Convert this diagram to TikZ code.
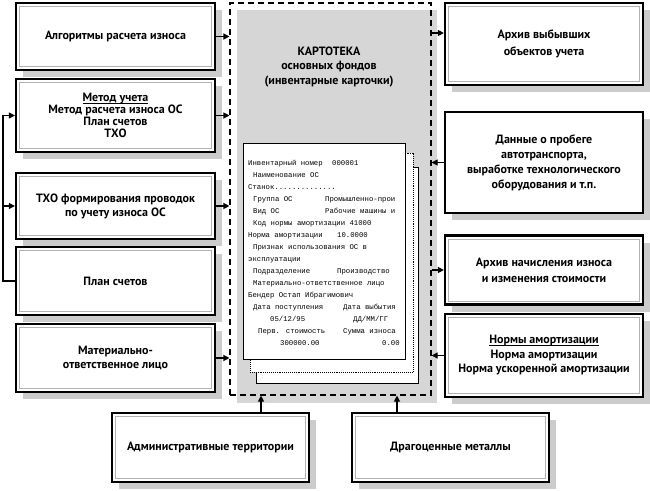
\documentclass[tikz,border=0pt]{standalone}
\usepackage{fontspec}
\setmainfont{PT Sans}
\newfontfamily\cardfont{Liberation Mono}
\usetikzlibrary{arrows.meta,shadows}
\definecolor{shgray}{gray}{0.80}
\definecolor{contgray}{gray}{0.84}
\newcommand\myul[1]{\setbox0\hbox{#1}\rlap{\rule[-1.6pt]{\wd0}{0.6pt}}\box0}
\tikzset{
  bx/.style={draw=black, line width=2.2pt, fill=white, align=center, inner sep=0pt,
    font=\bfseries\fontsize{12}{12.5}\selectfont,
    drop shadow={shadow xshift=7pt, shadow yshift=-7pt, fill=shgray, opacity=1}},
  lsk/.style={font=\bfseries\fontsize{12}{#1}\selectfont},
  bxthin/.style={bx, line width=1.5pt},
  innerline/.style={draw=gray!60, line width=0.7pt},
  arr/.style={line width=1.1pt, -{Triangle[length=6pt,width=6pt]}},
  cardbox/.style={draw=black, fill=white, line width=0.9pt, inner sep=0pt},
  ct/.style={font=\cardfont\fontsize{7.3}{8}\selectfont, anchor=base west, inner sep=0pt},
}
\begin{document}
\begin{tikzpicture}[x=1pt,y=-1pt]
\useasboundingbox (0,0) rectangle (650,490);

% container
\fill[contgray] (237,10) rectangle (437,403);
\node[draw, dash pattern=on 6pt off 4pt, line width=1.1pt, minimum width=201pt, minimum height=392pt, inner sep=0pt] (cont) at (330.5,199) {};

\node[align=center, font=\bfseries\fontsize{12}{14.5}\selectfont] (title) at (329,67) {КАРТОТЕКА\\основных фондов\\(инвентарные карточки)};

% cards
\node[cardbox, minimum width=162pt, minimum height=216pt] (card3) at (337,275) {};
\node[cardbox, densely dotted, minimum width=163pt, minimum height=219pt] (card2) at (331.5,262.5) {};
\node[cardbox, minimum width=162pt, minimum height=216pt] (card1) at (324,251) {};

\node[ct] (t1a) at (248,165.5) {Инвентарный номер};
\node[ct] (t1b) at (332,165.5) {000001};
\node[ct] (t2) at (253,177.5) {Наименование ОС};
\node[ct] (t3) at (248,189.5) {Станок..............};
\node[ct] (t4a) at (253,201.5) {Группа ОС};
\node[ct] (t4b) at (325,201.5) {Промышленно-прои};
\node[ct] (t5a) at (253,213.5) {Вид ОС};
\node[ct] (t5b) at (325,213.5) {Рабочие машины и};
\node[ct] (t6) at (253,225.5) {Код нормы амортизации 41000};
\node[ct] (t7a) at (248,237.5) {Норма амортизации};
\node[ct] (t7b) at (337,237.5) {10.0000};
\node[ct] (t8) at (253,249.5) {Признак использования ОС в};
\node[ct] (t9) at (248,261.5) {эксплуатации};
\node[ct] (t10a) at (253,273.5) {Подразделение};
\node[ct] (t10b) at (337,273.5) {Производство};
\node[ct] (t11) at (253,285.5) {Материально-ответственное лицо};
\node[ct] (t12) at (248,297.5) {Бендер Остап Ибрагимович};
\node[ct] (t13a) at (253,309.5) {Дата поступления};
\node[ct] (t13b) at (343,309.5) {Дата выбытия};
\node[ct] (t14a) at (270,321.5) {05/12/95};
\node[ct] (t14b) at (353,321.5) {ДД/ММ/ГГ};
\node[ct] (t15a) at (258,333.5) {Перв. стоимость};
\node[ct] (t15b) at (343,333.5) {Сумма износа};
\node[ct] (t16a) at (280,345.5) {300000.00};
\node[ct] (t16b) at (382,345.5) {0.00};

% left boxes
\node[bx, minimum width=199pt, minimum height=67pt] (alg) at (115.5,36.5) {Алгоритмы расчета износа};
\node[bx, lsk=12, minimum width=199pt, minimum height=73pt] (metod) at (115.5,115.5) {\myul{Метод учета}\\Метод расчета износа ОС\\План счетов\\ТХО};
\node[bx, lsk=14, minimum width=199pt, minimum height=66pt] (tho) at (115.5,206) {ТХО формирования проводок\\по учету износа ОС};
\node[bx, minimum width=199pt, minimum height=68pt] (plan) at (115.5,281) {План счетов};
\node[bx, lsk=14, minimum width=199pt, minimum height=68pt] (mat) at (115.5,358) {Материально-\\ответственное лицо};

% right boxes
\node[bx, lsk=17, minimum width=198pt, minimum height=82pt] (arch1) at (544,44) {Архив выбывших\\объектов учета};
\node[bxthin, lsk=15, minimum width=198pt, minimum height=101pt] (dan) at (544,162.5) {Данные о пробеге\\автотранспорта,\\выработке технологического\\оборудования и т.п.};
\node[bx, lsk=16, minimum width=198pt, minimum height=69pt] (arch2) at (544,270) {Архив начисления износа\\и изменения стоимости};
\node[bx, lsk=14.5, minimum width=198pt, minimum height=83pt] (norm) at (544,355.5) {\myul{Нормы амортизации}\\Норма амортизации\\Норма ускоренной амортизации};

% bottom boxes
\node[bx, minimum width=197pt, minimum height=69pt] (adm) at (210.5,447.5) {Административные территории};
\node[bx, minimum width=197pt, minimum height=69pt] (drag) at (450.5,447.5) {Драгоценные металлы};

\foreach \n in {alg,metod,tho,plan,mat,arch1,arch2,norm,adm,drag}
  \draw[innerline] ([shift={(4.5pt,-4.5pt)}]\n.north west) rectangle ([shift={(-4.5pt,4.5pt)}]\n.south east);

% left connectors
\draw[arr] (alg.east) -- (alg.east -| cont.west);
\draw[arr] (metod.east) -- (metod.east -| cont.west);
\draw[arr] (tho.east) -- (tho.east -| cont.west);
\draw[arr] (mat.east) -- (mat.east -| cont.west);

\coordinate (lb) at (3,281);
\draw[arr] (plan.west) -- (lb) |- (metod.west);
\draw[arr] (lb |- tho.west) -- (tho.west);

% right connectors
\coordinate (a1) at ([yshift=11pt]arch1.west);
\draw[arr] (a1 -| cont.east) -- (a1);
\draw[arr] (dan.west) -- (dan.west -| cont.east);
\draw[arr] (arch2.west -| cont.east) -- (arch2.west);
\draw[arr] (norm.west) -- (norm.west -| cont.east);

% bottom connectors
\coordinate (b1) at ([xshift=50.5pt]adm.north);
\coordinate (b2) at ([xshift=-53.5pt]drag.north);
\draw[arr] (b1) -- (b1 |- cont.south);
\draw[arr] (b2) -- (b2 |- cont.south);
\end{tikzpicture}
\end{document}
